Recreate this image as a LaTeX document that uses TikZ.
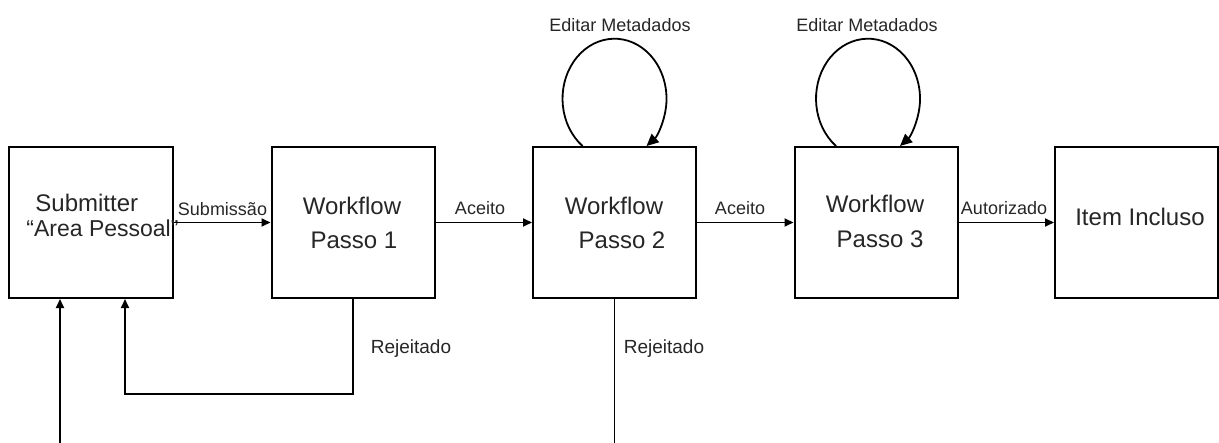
\documentclass[tikz,border=0pt]{standalone}
\usepackage{fontspec}
\setmainfont{Liberation Sans}
\usetikzlibrary{arrows.meta}
\begin{document}
\begin{tikzpicture}[x=0.5pt,y=-0.5pt,
  stage/.style={draw, line width=1pt, minimum width=81.5pt, minimum height=75.5pt, inner sep=0pt},
  flow/.style={line width=0.9pt, -{Triangle[length=4.5pt,width=4pt]}},
  loopflow/.style={line width=0.9pt, -{Triangle[length=6pt,width=5.5pt]}},
  plain/.style={line width=0.9pt},
  boxtext/.style={font=\fontsize{12}{14}\selectfont, inner sep=0pt, text=black!85},
  edgetext/.style={font=\fontsize{9}{11}\selectfont, anchor=base, inner sep=0pt, text=black!85}]
\useasboundingbox (0,0) rectangle (1219,443);

% stages
\node[stage, minimum width=82pt] (sub) at (91,222.5) {};
\node[stage] (p1) at (353,222.5) {};
\node[stage] (p2) at (614.5,222.5) {};
\node[stage] (p3) at (876,222.5) {};
\node[stage] (inc) at (1136.5,222.5) {};

% stage captions
\node[boxtext, anchor=base west] (subA) at (35,212) {Submitter};
\node[boxtext, anchor=base west, font=\fontsize{11.5}{13}\selectfont] (subB) at (26,236) {“Area Pessoal”};
\node[boxtext, anchor=base] (p1A) at (352,214) {Workflow};
\node[boxtext, anchor=base] (p1B) at (354,249) {Passo 1};
\node[boxtext, anchor=base] (p2A) at (614,214) {Workflow};
\node[boxtext, anchor=base] (p2B) at (622,249) {Passo 2};
\node[boxtext, anchor=base] (p3A) at (875,213) {Workflow};
\node[boxtext, anchor=base] (p3B) at (880,248) {Passo 3};
\node[boxtext, anchor=base] (incA) at (1140,226) {Item Incluso};

% forward transitions
\draw[flow] (sub.east) -- (p1.west);
\draw[flow] (p1.east) -- (p2.west);
\draw[flow] (p2.east) -- (p3.west);
\draw[flow] (p3.east) -- (inc.west);
\node[edgetext] (lSub) at (222.5,215) {Submissão};
\node[edgetext] (lAc1) at (480,214) {Aceito};
\node[edgetext] (lAc2) at (740,214) {Aceito};
\node[edgetext] (lAut) at (1004,214) {Autorizado};

% metadata editing loops
\draw[loopflow] ([xshift=-16pt]p2.north) arc[start angle=232, end angle=-52, x radius=26pt, y radius=30pt];
\draw[loopflow] ([xshift=-20pt]p3.north) arc[start angle=232, end angle=-52, x radius=26pt, y radius=30pt];
\node[edgetext] (lEd1) at (620,32) {Editar Metadados};
\node[edgetext] (lEd2) at (867,32) {Editar Metadados};

% rejections
\draw[flow] (p1.south) -- ++(0,95) -| ([xshift=17pt]sub.south);
\node[edgetext, font=\fontsize{9.5}{11}\selectfont] (lRj1) at (411,353) {Rejeitado};
\coordinate (cutA) at (614.5,445);
\draw[plain] (p2.south) -- (cutA);
\node[edgetext, font=\fontsize{9.5}{11}\selectfont] (lRj2) at (664,353) {Rejeitado};
\coordinate (cutB) at (60,445);
\draw[flow] (cutB) -- ([xshift=-15.5pt]sub.south);
\end{tikzpicture}
\end{document}
